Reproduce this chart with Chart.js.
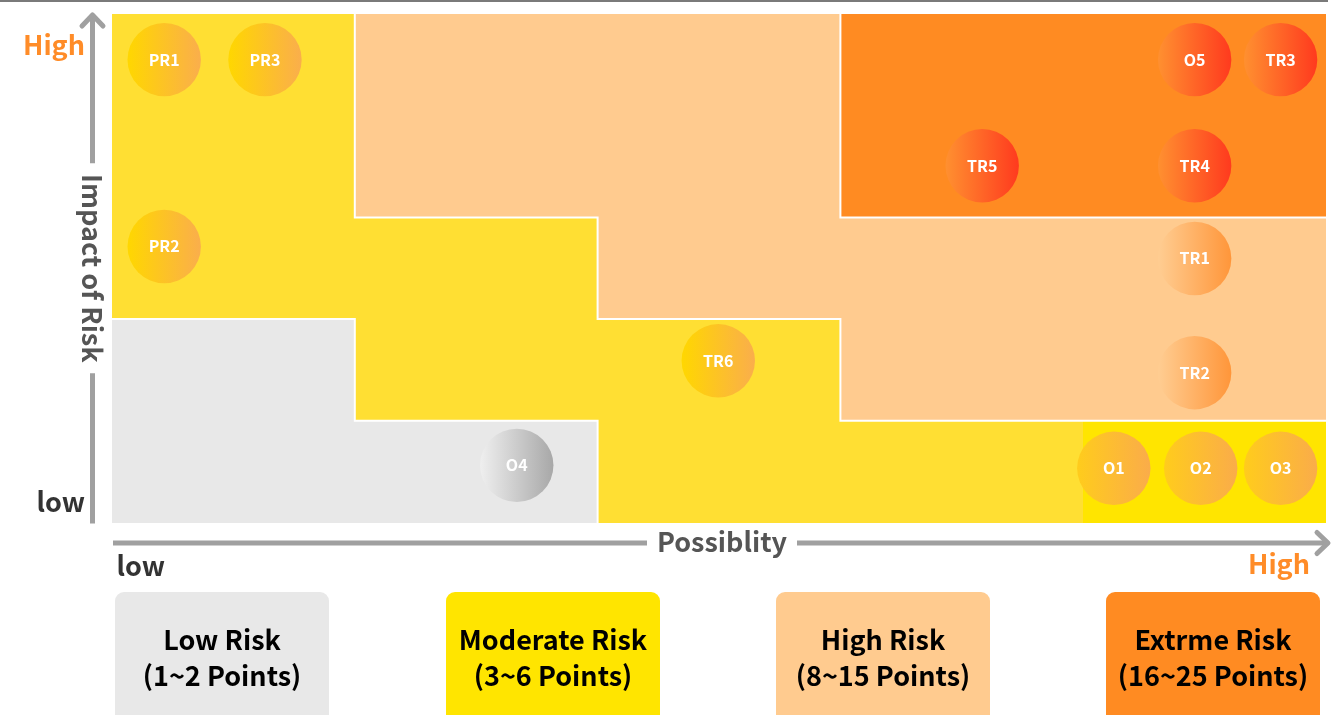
<!DOCTYPE html>
<html><head><meta charset="utf-8">
<script src="https://cdn.jsdelivr.net/npm/chart.js@4"></script>
<style>html,body{margin:0;padding:0;background:#fff;overflow:hidden}canvas{display:block}</style>
</head><body>
<canvas id="c" width="1336" height="715"></canvas>
<script>
// ---------- DATA ----------
const riskNames   = ['PR1','PR3','PR2','TR6','O4','O5','TR3','TR5','TR4','TR1','TR2','O1','O2','O3'];
const possibility = [0.215,0.630,0.215,2.497,1.667,4.459,4.813,3.584,4.459,4.459,4.459,4.126,4.484,4.813];
const impact      = [4.551,4.551,2.714,1.590,0.562,4.551,4.551,3.508,3.508,2.596,1.473,0.533,0.533,0.533];
const riskLevel   = ['M','M','M','M','L','E','E','E','E','H','H','M2','M2','M2'];
// grid of risk levels: rows = impact 1 (bottom) .. 5 (top), cols = possibility 1..5
const gridRow1 = ['L','L','M','M','M2'];
const gridRow2 = ['L','M','M','H','H'];
const gridRow3 = ['M','M','H','H','H'];
const gridRow4 = ['M','H','H','E','E'];
const gridRow5 = ['M','H','H','E','E'];
const gridRows = [gridRow1, gridRow2, gridRow3, gridRow4, gridRow5];
const legendTitles = ['Low Risk','Moderate Risk','High Risk','Extrme Risk'];
const legendRanges = ['(1~2 Points)','(3~6 Points)','(8~15 Points)','(16~25 Points)'];
const xAxisTitle = 'Possiblity';
const yAxisTitle = 'Impact of Risk';
const lowLabel = 'low';
const highLabel = 'High';

// ---------- STYLES ----------
const FONT = '"Noto Sans CJK SC", "Noto Sans", sans-serif';
const cellColors = { L:'#E8E8E8', M:'#FFDF33', M2:'#FFE500', H:'#FFCB8F', E:'#FF8B22' };
const cellGroup  = { L:'L', M:'M', M2:'M', H:'H', E:'E' };
const legendColors = ['#E8E8E8','#FFE500','#FFCB8F','#FF8B22'];
const bubbleGrad = {
  L:  ['#EFEFEF','#A8A8A8'],
  M:  ['#FFD700','#FAAE4C'],
  M2: ['#FFCC1C','#FAAC4A'],
  H:  ['#FFCD92','#FF963A'],
  E:  ['#FF9030','#FF3A1E']
};
const R = 36.7;
const axisGray = '#A0A0A0';
const textGray = '#555555';
const orange = '#FF8C28';

const bgPlugin = {
  id: 'riskGrid',
  beforeDatasetsDraw(chart) {
    const ctx = chart.ctx, xs = chart.scales.x, ys = chart.scales.y;
    ctx.save();
    for (let r = 0; r < 5; r++) for (let c = 0; c < 5; c++) {
      const x0 = Math.floor(xs.getPixelForValue(c)), x1 = Math.ceil(xs.getPixelForValue(c+1));
      const y0 = Math.floor(ys.getPixelForValue(r+1)), y1 = Math.ceil(ys.getPixelForValue(r));
      ctx.fillStyle = cellColors[gridRows[r][c]];
      ctx.fillRect(x0, y0, x1-x0, y1-y0);
    }
    ctx.strokeStyle = '#FFFFFF'; ctx.lineWidth = 2;
    ctx.beginPath();
    for (let r = 0; r < 5; r++) for (let c = 0; c < 5; c++) {
      const g = cellGroup[gridRows[r][c]];
      if (c < 4 && cellGroup[gridRows[r][c+1]] !== g) {
        const x = xs.getPixelForValue(c+1);
        ctx.moveTo(x, ys.getPixelForValue(r+1) - 1); ctx.lineTo(x, ys.getPixelForValue(r) + 1);
      }
      if (r < 4 && cellGroup[gridRows[r+1][c]] !== g) {
        const y = ys.getPixelForValue(r+1);
        ctx.moveTo(xs.getPixelForValue(c) - 1, y); ctx.lineTo(xs.getPixelForValue(c+1) + 1, y);
      }
    }
    ctx.stroke();
    ctx.restore();
  },
  afterDatasetsDraw(chart) {
    const ctx = chart.ctx;
    const meta = chart.getDatasetMeta(0);
    ctx.save();
    ctx.fillStyle = '#FFFFFF';
    ctx.font = 'bold 16px ' + FONT;
    ctx.textAlign = 'center'; ctx.textBaseline = 'alphabetic';
    meta.data.forEach((pt, i) => {
      ctx.fillText(riskNames[i], pt.x, pt.y + 6);
    });
    ctx.restore();
  },
  afterDraw(chart) {
    const ctx = chart.ctx, a = chart.chartArea;
    ctx.save();
    // top rule
    ctx.fillStyle = '#7A7A7A';
    ctx.fillRect(0, 0, 1328, 2);
    // axes arrows
    ctx.strokeStyle = axisGray; ctx.lineWidth = 5; ctx.lineJoin = 'round';
    const ax = a.left - 19.5;
    const ymid = (a.top + a.bottom) / 2;
    ctx.lineCap = 'butt';
    ctx.beginPath();
    ctx.moveTo(ax, a.top + 1); ctx.lineTo(ax, ymid - 105);
    ctx.moveTo(ax, ymid + 105); ctx.lineTo(ax, a.bottom + 1);
    ctx.stroke();
    ctx.lineCap = 'round';
    ctx.beginPath();
    ctx.moveTo(ax - 10.5, a.top + 12); ctx.lineTo(ax, a.top + 1); ctx.lineTo(ax + 10.5, a.top + 12);
    ctx.stroke();
    const ay = a.bottom + 20.5;
    const xmid = 722;
    const tipX = a.right + 2;
    ctx.lineCap = 'butt';
    ctx.beginPath();
    ctx.moveTo(a.left + 1, ay); ctx.lineTo(xmid - 75, ay);
    ctx.moveTo(xmid + 75, ay); ctx.lineTo(tipX, ay);
    ctx.stroke();
    ctx.lineCap = 'round';
    ctx.beginPath();
    ctx.moveTo(tipX - 11, ay - 10.5); ctx.lineTo(tipX, ay); ctx.lineTo(tipX - 11, ay + 10.5);
    ctx.stroke();
    // axis titles
    ctx.fillStyle = textGray;
    ctx.font = 'bold 27px ' + FONT;
    ctx.textAlign = 'center'; ctx.textBaseline = 'alphabetic';
    ctx.fillText(xAxisTitle, xmid, 551.5);
    ctx.save();
    ctx.translate(ax - 10.5, ymid);
    ctx.rotate(Math.PI / 2);
    ctx.fillText(yAxisTitle, 0, 0);
    ctx.restore();
    // low / high labels
    ctx.font = 'bold 27px ' + FONT;
    ctx.fillStyle = orange; ctx.textAlign = 'right';
    ctx.fillText(highLabel, 85, 54.5);
    ctx.fillText(highLabel, 1310, 574);
    ctx.fillStyle = '#333333';
    ctx.fillText(lowLabel, 85, 511.5);
    ctx.textAlign = 'left';
    ctx.fillText(lowLabel, 116.5, 576);
    // legend boxes
    const boxX = [115, 446, 776, 1106];
    const boxW = 214;
    legendTitles.forEach((t, i) => {
      ctx.fillStyle = legendColors[i];
      ctx.beginPath();
      ctx.roundRect(boxX[i], 592, boxW, 140, 9);
      ctx.fill();
      ctx.fillStyle = '#000000';
      ctx.font = 'bold 27px ' + FONT;
      ctx.textAlign = 'center';
      const cx = boxX[i] + boxW / 2;
      ctx.fillText(t, cx, 650);
      ctx.fillText(legendRanges[i], cx, 686);
    });
    ctx.restore();
  }
};

const points = possibility.map((x, i) => ({ x, y: impact[i] }));

new Chart(document.getElementById('c'), {
  type: 'scatter',
  data: { datasets: [{
    data: points,
    pointRadius: R,
    pointHoverRadius: R,
    borderWidth: 0,
    pointBorderWidth: 0,
    backgroundColor(context) {
      const lvl = riskLevel[context.dataIndex];
      if (context.type !== 'data' || !lvl) return 'rgba(0,0,0,0)';
      const stops = bubbleGrad[lvl];
      const chart = context.chart;
      const xs = chart.scales.x;
      const px = xs ? xs.getPixelForValue(possibility[context.dataIndex]) : NaN;
      if (!isFinite(px)) return stops[0];
      const g = chart.ctx.createLinearGradient(px - R, 0, px + R, 0);
      g.addColorStop(0, stops[0]);
      g.addColorStop(1, stops[1]);
      return g;
    }
  }]},
  options: {
    responsive: false,
    devicePixelRatio: 1,
    animation: false,
    events: [],
    clip: false,
    layout: { autoPadding: false, padding: { left: 112, top: 14, right: 10, bottom: 192.5 } },
    scales: {
      x: { type: 'linear', min: 0, max: 5, display: false },
      y: { type: 'linear', min: 0, max: 5, display: false }
    },
    plugins: { legend: { display: false }, tooltip: { enabled: false } }
  },
  plugins: [bgPlugin]
});
</script>
</body></html>
